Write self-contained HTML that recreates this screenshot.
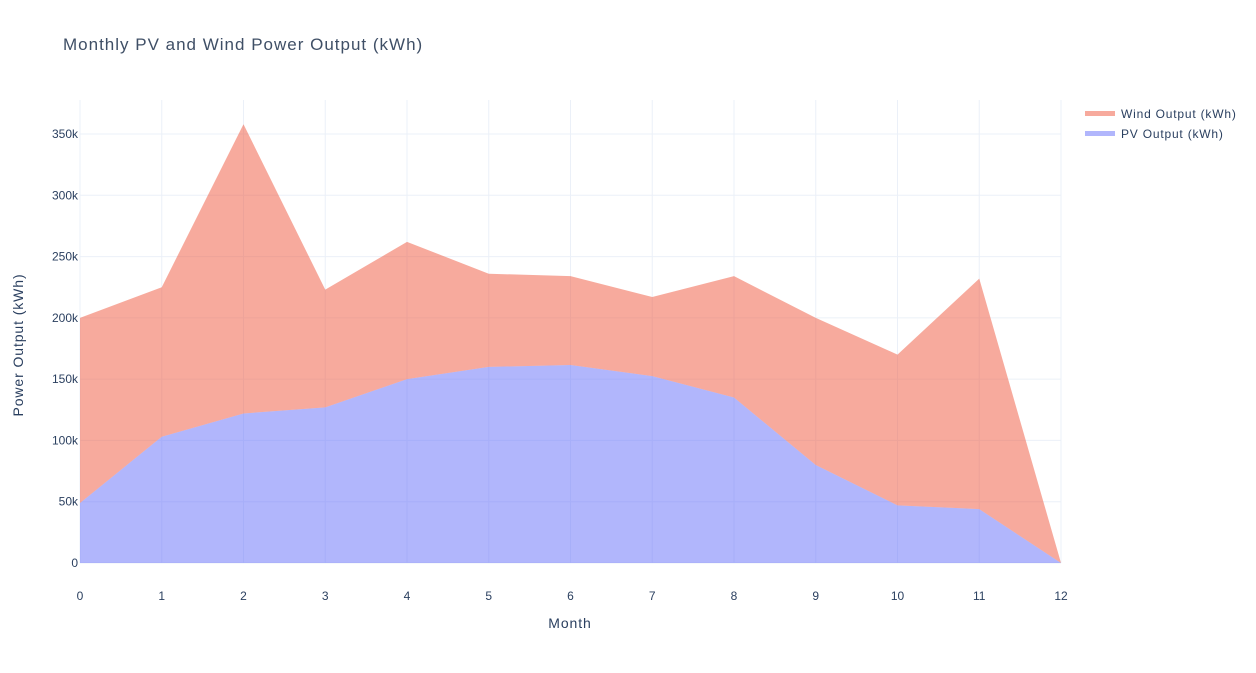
<!DOCTYPE html>
<html><head><meta charset="utf-8"><style>
body{margin:0;background:#fff;font-family:"Liberation Sans",Arial,sans-serif;}
svg text{font-family:"Liberation Sans",Arial,sans-serif;fill:#2a3f5f;}
</style></head><body>
<svg id="chart" width="1256" height="668">
<text x="63" y="50" font-size="17" letter-spacing="1" fill="#444" style="fill:#3f4f66">Monthly PV and Wind Power Output (kWh)</text>
<g id="grid"></g><g id="areas"></g><g id="axes"></g>
<text x="570" y="628" font-size="14" letter-spacing="0.9" text-anchor="middle">Month</text>
<text transform="translate(23,345) rotate(-90)" font-size="14" letter-spacing="0.9" text-anchor="middle">Power Output (kWh)</text>
<g><rect x="1085" y="111" width="30" height="5" fill="#ef553b" opacity="0.5"/><text x="1121" y="118" font-size="12" letter-spacing="0.8">Wind Output (kWh)</text></g>
<g><rect x="1085" y="131" width="30" height="5" fill="#636efa" opacity="0.5"/><text x="1121" y="138" font-size="12" letter-spacing="0.8">PV Output (kWh)</text></g>
</svg>
<script>
const months=[0,1,2,3,4,5,6,7,8,9,10,11,12];
const pvValues=[49000,103000,122000,127000,150000,160000,161500,152500,135000,80000,47000,44000,0];
const windValues=[151000,122000,236000,96000,112000,76000,72500,64500,99000,120000,123000,188000,0];
const yTicks=[0,50000,100000,150000,200000,250000,300000,350000];
const yTickLabels=["0","50k","100k","150k","200k","250k","300k","350k"];
const NS="http://www.w3.org/2000/svg";
const X0=80,X1=1061,Y0=563,Y1=100;
const xs=v=>X0+(v-0)/(12-0)*(X1-X0);
const ys=v=>Y0-v/350000*429;
function mk(tag,attrs,parent){const e=document.createElementNS(NS,tag);for(const k in attrs)e.setAttribute(k,attrs[k]);parent.appendChild(e);return e;}
const grid=document.getElementById('grid'),areas=document.getElementById('areas'),axes=document.getElementById('axes');
months.forEach(m=>{
 const l=mk('line',{x1:xs(m),x2:xs(m),y1:Y1,y2:Y0,stroke:'#ebf0f8'},grid);
 
 
 const t=mk('text',{x:xs(m),y:Y0+37,'font-size':12,'text-anchor':'middle'},axes);t.textContent=m;
 
 
});
yTicks.forEach((v,i)=>{
 const l=mk('line',{x1:X0,x2:X1,y1:ys(v),y2:ys(v),stroke:'#ebf0f8'},grid);
 
 
 const t=mk('text',{x:X0-2,y:ys(v)+4,'font-size':12,'text-anchor':'end'},axes);t.textContent=yTickLabels[i];
 
 
});
const totals=pvValues.map((p,i)=>p+windValues[i]);
const pvTop=months.map((m,i)=>xs(m)+','+ys(pvValues[i]));
const totTop=months.map((m,i)=>xs(m)+','+ys(totals[i]));
const pv=mk('polygon',{points:[xs(0)+','+ys(0),...pvTop,xs(12)+','+ys(0)].join(' '),fill:'#636efa','fill-opacity':0.5},areas);


const wind=mk('polygon',{points:[...totTop,...pvTop.slice().reverse()].join(' '),fill:'#ef553b','fill-opacity':0.5},areas);


</script>
</body></html>
